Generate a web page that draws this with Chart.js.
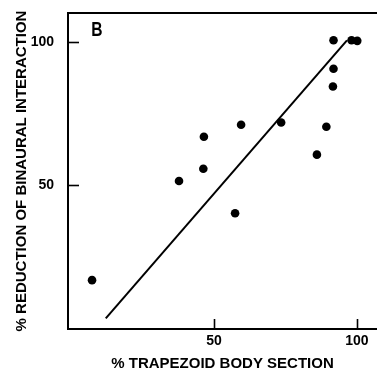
<!DOCTYPE html>
<html>
<head>
<meta charset="utf-8">
<script src="https://cdn.jsdelivr.net/npm/chart.js@4/dist/chart.umd.min.js"></script>
<style>
  html, body { margin: 0; padding: 0; background: #fff; }
  #wrap { width: 377px; height: 372px; }
</style>
</head>
<body>
<div id="wrap"><canvas id="c" width="377" height="372"></canvas></div>
<script>
// Data
const trapezoidSection = [7.4, 37.8, 46.3, 46.5, 57.4, 59.5, 73.5, 86.0, 89.3, 91.6, 91.8, 91.8, 98.1, 100.1];
const binauralReduction = [17.0, 51.5, 55.8, 66.9, 40.3, 71.1, 71.9, 60.7, 70.4, 84.4, 90.6, 100.5, 100.5, 100.3];
const fitLineX = [12.2, 96.5];
const fitLineY = [3.7, 100.5];
const xTickValues = [50, 100];
const yTickValues = [50, 100];
const panelLabel = 'B';
const xTitle = '% TRAPEZOID BODY SECTION';
const yTitle = '% REDUCTION OF BINAURAL INTERACTION';

const FONT = "'Liberation Sans', Arial, sans-serif";

const points = trapezoidSection.map((x, i) => ({ x: x, y: binauralReduction[i] }));
const fit = fitLineX.map((x, i) => ({ x: x, y: fitLineY[i] }));

const decor = {
  id: 'decor',
  afterDraw(chart) {
    const ctx = chart.ctx;
    const a = chart.chartArea;
    const xs = chart.scales.x, ys = chart.scales.y;
    ctx.save();
    ctx.strokeStyle = '#000';
    // top frame line
    ctx.lineWidth = 2;
    ctx.beginPath();
    ctx.moveTo(a.left, a.top);
    ctx.lineTo(a.right, a.top);
    ctx.stroke();
    // inward tick marks
    ctx.lineWidth = 1.6;
    xs.ticks.forEach(t => {
      const px = Math.round(xs.getPixelForValue(t.value)) + 0.5;
      ctx.beginPath();
      ctx.moveTo(px, a.bottom);
      ctx.lineTo(px, a.bottom - 10);
      ctx.stroke();
    });
    ys.ticks.forEach(t => {
      const py = Math.round(ys.getPixelForValue(t.value)) + 0.5;
      ctx.beginPath();
      ctx.moveTo(a.left, py);
      ctx.lineTo(a.left + 11, py);
      ctx.stroke();
    });
    // panel letter
    ctx.fillStyle = '#000';
    ctx.font = 'bold 20px ' + FONT;
    ctx.textAlign = 'center';
    ctx.textBaseline = 'middle';
    ctx.translate(a.left + 29, a.top + 17);
    ctx.scale(0.78, 1);
    ctx.fillText(panelLabel, 0, 0);
    ctx.restore();
  }
};

new Chart(document.getElementById('c'), {
  type: 'scatter',
  data: {
    datasets: [
      { type: 'line', data: fit, borderColor: '#000', borderWidth: 2, pointRadius: 0, fill: false, tension: 0 },
      { type: 'scatter', data: points, backgroundColor: '#000', borderColor: '#000', pointRadius: 4.3, borderWidth: 0 }
    ]
  },
  options: {
    responsive: false,
    animation: false,
    devicePixelRatio: 1,
    layout: { autoPadding: false, padding: { left: 13, top: 13, right: 0, bottom: 0 } },
    plugins: { legend: { display: false }, tooltip: { enabled: false } },
    scales: {
      x: {
        type: 'linear', min: -1, max: 107,
        afterBuildTicks: s => { s.ticks = xTickValues.map(v => ({ value: v })); },
        afterFit: s => { s.height = 43; s.paddingLeft = 0; s.paddingRight = 0; },
        grid: { display: false, drawTicks: false },
        border: { display: true, color: '#000', width: 2 },
        ticks: { color: '#000', font: { family: FONT, size: 14, weight: 'bold' }, padding: 4, maxRotation: 0 },
        title: { display: true, text: xTitle, color: '#000', font: { family: FONT, size: 15, weight: 'bold' }, padding: { top: 0, bottom: -1 } }
      },
      y: {
        type: 'linear', min: 0, max: 110,
        afterBuildTicks: s => { s.ticks = yTickValues.map(v => ({ value: v })); },
        afterFit: s => { s.width = 55; s.paddingTop = 0; s.paddingBottom = 0; },
        grid: { display: false, drawTicks: false },
        border: { display: true, color: '#000', width: 2 },
        ticks: { color: '#000', font: { family: FONT, size: 14, weight: 'bold' }, padding: 14 },
        title: { display: true, text: yTitle, color: '#000', font: { family: FONT, size: 15, weight: 'bold' }, padding: 0 }
      }
    }
  },
  plugins: [decor]
});
</script>
</body>
</html>
